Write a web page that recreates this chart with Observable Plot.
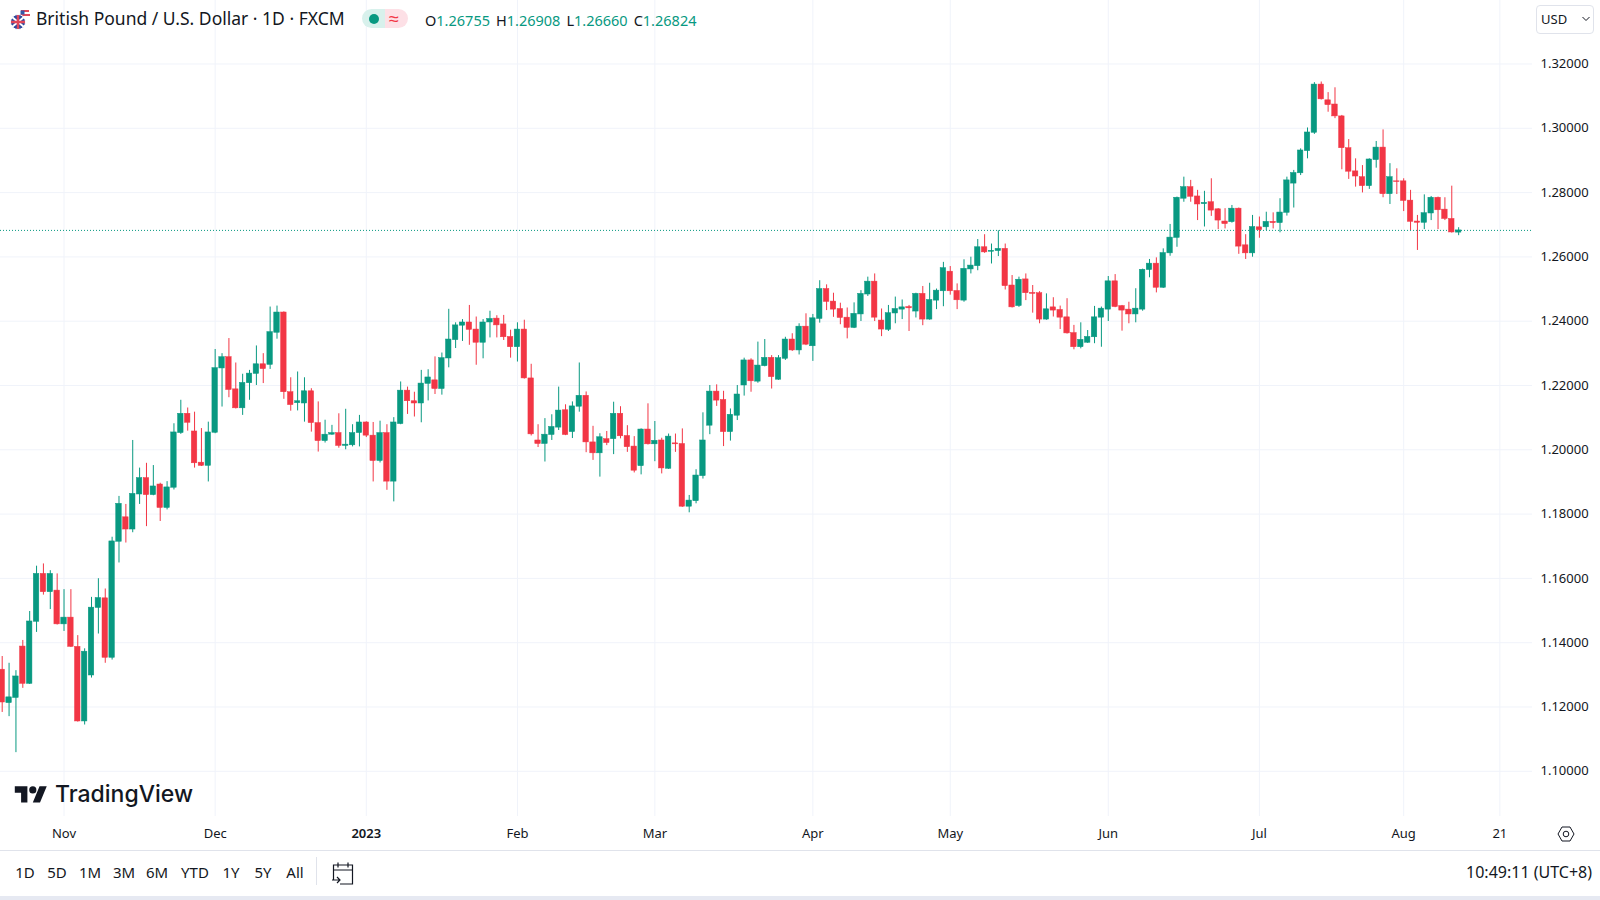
<!DOCTYPE html>
<html><head><meta charset="utf-8">
<script src="https://cdn.jsdelivr.net/npm/d3@7"></script>
<script src="https://cdn.jsdelivr.net/npm/@observablehq/plot@0.6"></script>
<style>
html,body{margin:0;padding:0;background:#fff}
#page{position:relative;width:1600px;height:900px;overflow:hidden;font-family:"Noto Sans",sans-serif;color:#131722}
#chart{position:absolute;left:0;top:0}
.a{position:absolute;white-space:nowrap}
</style></head><body>
<div id="page"><div id="chart"></div>
<svg class="a" style="left:9px;top:7px" width="24" height="24" viewBox="0 0 24 24">
<circle cx="16" cy="7.5" r="5.5" fill="#fff"/><path d="M12 3h8v2h-8zM11 7h10v2H11z" fill="#e0475a"/><path d="M11.5 3.5h4v4h-4z" fill="#3558a8"/>
<circle cx="9" cy="15" r="7.5" fill="#2f4a9e" stroke="#fff"/><path d="M3 10l12 10M15 10L3 20" stroke="#fff" stroke-width="2"/><path d="M9 8v14M2 15h14" stroke="#e0475a" stroke-width="2.4"/>
</svg>
<div class="a" id="title" style="left:36px;top:6px;font-size:17.5px;line-height:25px"></div>
<div class="a" style="left:362px;top:9px;width:23px;height:19px;background:#d8f1ec;border-radius:10px 0 0 10px"></div>
<div class="a" style="left:385px;top:9px;width:23px;height:19px;background:#fde0e6;border-radius:0 10px 10px 0"></div>
<div class="a" style="left:369px;top:13.5px;width:10px;height:10px;border-radius:5px;background:#089981"></div>
<div class="a" style="left:389px;top:6px;font-size:18px;line-height:24px;color:#f23645">≈</div>
<div class="a" id="ohlc" style="left:425px;top:10px;font-size:14.5px;line-height:20px"></div>
<div class="a" style="left:1536px;top:5px;width:56px;height:27px;border:1px solid #e0e3eb;border-radius:4px;font-size:13px;line-height:26px;text-indent:4px">USD</div>
<svg class="a" style="left:1581px;top:15px" width="10" height="8"><path d="M1.5 2l3.5 3.5L8.5 2" fill="none" stroke="#131722"/></svg>
<svg class="a" style="left:13px;top:785px" width="36" height="18" viewBox="0 5.5 36 20"><path d="M14 25H7V14H0V7h14v18zM28 25h-8l7.5-18h8L28 25z" fill="#131722"/><circle cx="20" cy="11" r="4" fill="#131722"/></svg>
<div class="a" style="left:55px;top:778px;font-family:Inter,sans-serif;font-weight:500;font-size:23px;line-height:32px;color:#131722">TradingView</div>
<svg class="a" style="left:1556px;top:825px" width="20" height="18" viewBox="0 0 20 18"><path d="M6 2h8l4 7-4 7H6L2 9z" fill="none" stroke="#131722"/><circle cx="10" cy="9" r="2.8" fill="none" stroke="#131722"/></svg>
<div class="a" style="left:0;top:850px;width:1600px;height:1px;background:#e0e3eb"></div>
<div id="ranges"></div>
<div class="a" style="left:316px;top:857px;width:1px;height:28px;background:#e0e3eb"></div>
<svg class="a" style="left:331px;top:860px" width="24" height="26" viewBox="0 0 24 26" fill="none" stroke="#131722" stroke-width="1.2"><path d="M2.5 20V5h19v19H9M2.5 10h19M7 2.5v5M17 2.5v5M1 20h8M6 17l3 3-3 3"/></svg>
<div class="a" style="right:8px;top:861px;font-size:16px;line-height:22px">10:49:11 (UTC+8)</div>
<div class="a" style="left:0;top:896px;width:1600px;height:4px;background:#e6e9f2"></div>
</div>
<script>
const titleText = "British Pound / U.S. Dollar · 1D · FXCM";
const rangeLabels = ["1D","5D","1M","3M","6M","YTD","1Y","5Y","All"];
const rangeCenters = [25,57,90,124,157,195,231,263,295];
const ohlcLabels = ["O","H","L","C"];
const ohlcValues = ["1.26755","1.26908","1.26660","1.26824"];

const opens = [
1.1316,1.1212,1.1228,1.1388,1.1272,1.1465,1.1614,1.1557,1.1562,1.1457,
1.1478,1.1387,1.1155,1.1298,1.1508,1.1538,1.1353,1.1714,1.1790,1.1752,
1.1861,1.1912,1.1859,1.1892,1.1819,1.1882,1.2052,1.2112,1.2057,1.1960,
1.1950,1.2053,1.2253,1.2288,1.2188,1.2129,1.2207,1.2236,1.2266,1.2264,
1.2364,1.2427,1.2179,1.2145,1.2144,1.2182,1.2083,1.2027,1.2047,1.2052,
1.2012,1.2014,1.2052,1.2085,1.2044,1.1965,1.2052,1.1901,1.2080,1.2184,
1.2151,1.2144,1.2205,1.2216,1.2189,1.2284,1.2341,1.2386,1.2396,1.2374,
1.2333,1.2396,1.2408,1.2390,1.2351,1.2319,1.2374,1.2222,1.2029,1.2018,
1.2046,1.2069,1.2123,1.2055,1.2134,1.2168,1.2023,1.1989,1.2033,1.2033,
1.2112,1.2043,1.2010,1.1949,1.2063,1.2017,1.2029,1.1941,1.2020,1.2018,
1.1823,1.1840,1.1918,1.2075,1.2181,1.2155,1.2055,1.2106,1.2200,1.2278,
1.2212,1.2260,1.2286,1.2218,1.2283,1.2343,1.2309,1.2383,1.2322,1.2407,
1.2500,1.2461,1.2438,1.2411,1.2379,1.2421,1.2483,1.2523,1.2402,1.2373,
1.2424,1.2436,1.2444,1.2430,1.2485,1.2405,1.2464,1.2493,1.2554,1.2494,
1.2464,1.2561,1.2571,1.2630,1.2616,1.2618,1.2625,1.2511,1.2447,1.2530,
1.2488,1.2487,1.2405,1.2443,1.2435,1.2412,1.2363,1.2319,1.2333,1.2350,
1.2411,1.2436,1.2524,1.2447,1.2436,1.2421,1.2436,1.2559,1.2579,1.2504,
1.2611,1.2659,1.2781,1.2817,1.2788,1.2764,1.2770,1.2748,1.2710,1.2708,
1.2750,1.2636,1.2611,1.2692,1.2692,1.2709,1.2705,1.2737,1.2828,1.2860,
1.2929,1.2986,1.3136,1.3087,1.3074,1.3037,1.2938,1.2866,1.2848,1.2820,
1.2901,1.2940,1.2795,1.2835,1.2835,1.2775,1.2710,1.2706,1.2735,1.2784,
1.2747,1.2718,1.26755];
const highs = [
1.1357,1.1336,1.1313,1.1407,1.1497,1.1638,1.1645,1.1624,1.1614,1.1565,
1.1565,1.1422,1.1381,1.1541,1.1599,1.1567,1.1728,1.1855,1.1830,1.2029,
1.1943,1.1958,1.1951,1.1896,1.1901,1.2081,1.2154,1.2130,1.2117,1.2066,
1.2086,1.2312,1.2299,1.2346,1.2270,1.2235,1.2247,1.2323,1.2299,1.2444,
1.2447,1.2429,1.2224,1.2242,1.2224,1.2190,1.2149,1.2092,1.2076,1.2112,
1.2126,1.2078,1.2107,1.2087,1.2085,1.2089,1.2078,1.2100,1.2211,1.2195,
1.2179,1.2247,1.2249,1.2289,1.2301,1.2437,1.2395,1.2405,1.2449,1.2413,
1.2405,1.2431,1.2417,1.2418,1.2372,1.2395,1.2403,1.2266,1.2078,1.2097,
1.2109,1.2195,1.2140,1.2149,1.2270,1.2180,1.2073,1.2050,1.2057,1.2148,
1.2134,1.2075,1.2041,1.2065,1.2143,1.2088,1.2036,1.2049,1.2049,1.2065,
1.1858,1.1938,1.2115,1.2200,1.2202,1.2182,1.2127,1.2200,1.2285,1.2283,
1.2335,1.2343,1.2293,1.2293,1.2350,1.2361,1.2392,1.2423,1.2421,1.2526,
1.2513,1.2487,1.2456,1.2441,1.2457,1.2495,1.2537,1.2547,1.2438,1.2449,
1.2475,1.2466,1.2449,1.2487,1.2508,1.2518,1.2500,1.2583,1.2570,1.2516,
1.2591,1.2599,1.2654,1.2669,1.2640,1.2681,1.2640,1.2542,1.2537,1.2547,
1.2511,1.2492,1.2485,1.2473,1.2447,1.2470,1.2387,1.2395,1.2371,1.2446,
1.2444,1.2539,1.2545,1.2449,1.2459,1.2501,1.2562,1.2592,1.2597,1.2625,
1.2701,1.2786,1.2848,1.2838,1.2807,1.2804,1.2843,1.2750,1.2750,1.2760,
1.2752,1.2669,1.2729,1.2724,1.2739,1.2737,1.2781,1.2848,1.2869,1.2936,
1.3001,1.3142,1.3144,1.3111,1.3126,1.3040,1.2965,1.2905,1.2884,1.2905,
1.2959,1.2995,1.2890,1.2874,1.2843,1.2807,1.2729,1.2793,1.2788,1.2786,
1.2784,1.2820,1.26908];
const lows = [
1.1183,1.1170,1.1058,1.1258,1.1270,1.1432,1.1548,1.1503,1.1455,1.1435,
1.1385,1.1153,1.1144,1.1290,1.1427,1.1336,1.1346,1.1648,1.1710,1.1742,
1.1830,1.1761,1.1857,1.1777,1.1813,1.1875,1.2048,1.2058,1.1943,1.1948,
1.1900,1.2050,1.2133,1.2162,1.2127,1.2107,1.2154,1.2200,1.2206,1.2250,
1.2344,1.2157,1.2120,1.2121,1.2086,1.2055,1.1993,1.2021,1.2045,1.2005,
1.2000,1.2009,1.2009,1.2038,1.1900,1.1959,1.1874,1.1838,1.2078,1.2110,
1.2102,1.2084,1.2152,1.2172,1.2170,1.2255,1.2315,1.2337,1.2325,1.2263,
1.2283,1.2348,1.2348,1.2340,1.2285,1.2273,1.2220,1.2043,1.2007,1.1962,
1.2029,1.2060,1.2044,1.2035,1.2117,1.1991,1.1967,1.1915,1.2013,1.1985,
1.2034,1.1992,1.1928,1.1922,1.2015,1.1963,1.1925,1.1939,1.1992,1.1821,
1.1804,1.1832,1.1909,1.2047,1.2135,1.2010,1.2027,1.2091,1.2167,1.2179,
1.2207,1.2258,1.2189,1.2216,1.2278,1.2306,1.2295,1.2324,1.2275,1.2394,
1.2433,1.2412,1.2389,1.2345,1.2377,1.2399,1.2477,1.2399,1.2352,1.2368,
1.2392,1.2405,1.2368,1.2410,1.2386,1.2403,1.2436,1.2445,1.2481,1.2436,
1.2459,1.2547,1.2557,1.2611,1.2578,1.2601,1.2497,1.2441,1.2443,1.2464,
1.2425,1.2392,1.2403,1.2413,1.2374,1.2360,1.2311,1.2314,1.2331,1.2330,
1.2319,1.2399,1.2442,1.2369,1.2392,1.2395,1.2431,1.2535,1.2488,1.2502,
1.2602,1.2630,1.2770,1.2770,1.2713,1.2693,1.2726,1.2685,1.2687,1.2705,
1.2608,1.2592,1.2599,1.2658,1.2682,1.2687,1.2675,1.2727,1.2752,1.2853,
1.2905,1.2981,1.3088,1.3050,1.3030,1.2871,1.2841,1.2817,1.2799,1.2810,
1.2876,1.2784,1.2763,1.2794,1.2741,1.2682,1.2620,1.2685,1.2713,1.2685,
1.2713,1.2674,1.26660];
const closes = [
1.1214,1.1230,1.1295,1.1272,1.1466,1.1614,1.1557,1.1614,1.1457,1.1478,
1.1387,1.1155,1.1372,1.1509,1.1539,1.1353,1.1715,1.1832,1.1752,1.1863,
1.1912,1.1859,1.1886,1.1819,1.1883,1.2054,1.2112,1.2084,1.1958,1.1950,
1.2054,1.2254,1.2288,1.2186,1.2129,1.2208,1.2237,1.2266,1.2251,1.2366,
1.2427,1.2179,1.2139,1.2151,1.2182,1.2083,1.2027,1.2047,1.2052,1.2012,
1.2016,1.2052,1.2085,1.2044,1.1965,1.2052,1.1901,1.2085,1.2184,1.2151,
1.2144,1.2206,1.2225,1.2189,1.2285,1.2343,1.2387,1.2396,1.2373,1.2333,
1.2396,1.2407,1.2387,1.2350,1.2319,1.2374,1.2222,1.2048,1.2018,1.2047,
1.2071,1.2122,1.2046,1.2135,1.2168,1.2023,1.1989,1.2039,1.2021,1.2112,
1.2042,1.2008,1.1935,1.2063,1.2017,1.2028,1.1942,1.2041,1.2017,1.1823,
1.1842,1.1920,1.2029,1.2181,1.2153,1.2055,1.2109,1.2172,1.2278,1.2213,
1.2262,1.2286,1.2226,1.2285,1.2343,1.2309,1.2383,1.2327,1.2409,1.2500,
1.2460,1.2436,1.2410,1.2379,1.2423,1.2485,1.2523,1.2411,1.2374,1.2425,
1.2438,1.2443,1.2440,1.2485,1.2405,1.2466,1.2495,1.2565,1.2493,1.2465,
1.2563,1.2573,1.2630,1.2614,1.2619,1.2625,1.2509,1.2443,1.2529,1.2487,
1.2485,1.2405,1.2437,1.2433,1.2411,1.2362,1.2319,1.2342,1.2351,1.2412,
1.2439,1.2524,1.2444,1.2433,1.2421,1.2439,1.2560,1.2579,1.2504,1.2612,
1.2660,1.2784,1.2817,1.2787,1.2763,1.2768,1.2744,1.2713,1.2702,1.2750,
1.2632,1.2611,1.2693,1.2683,1.2709,1.2705,1.2738,1.2838,1.2861,1.2931,
1.2987,1.3136,1.3090,1.3072,1.3037,1.2938,1.2865,1.2850,1.2820,1.2903,
1.2940,1.2795,1.2848,1.2833,1.2774,1.2709,1.2706,1.2736,1.2784,1.2745,
1.2718,1.2676,1.26824];

const monthBars = [9,31,75,95,118,138,161,183,204,218];
const monthLabels = ["Nov","Dec","Feb","Mar","Apr","May","Jun","Jul","Aug","21"];
const yearBars = [53];
const yearLabels = ["2023"];
const priceTicks = [1.10,1.12,1.14,1.16,1.18,1.20,1.22,1.24,1.26,1.28,1.30,1.32];

const UP = "#089981", DOWN = "#f23645", GRID = "#f0f3fa", INK = "#131722";
const candles = opens.map((o,i)=>({i,o,h:highs[i],l:lows[i],c:closes[i]}));
const col = d => d.c >= d.o ? UP : DOWN;
const lastClose = closes[closes.length-1];
const font = '"Noto Sans",sans-serif';

const chart = Plot.plot({
  width:1600,height:851,marginLeft:0,marginRight:68,marginTop:0,marginBottom:35,
  style:{background:"transparent",fontFamily:font,color:INK,overflow:"visible"},
  x:{domain:[-0.2475,222.75],axis:null},
  y:{domain:[1.08594,1.33975],axis:null},
  marks:[
    Plot.gridY(priceTicks,{stroke:GRID,strokeOpacity:1}),
    Plot.gridX([...monthBars,...yearBars],{stroke:GRID,strokeOpacity:1}),
    Plot.ruleY([lastClose],{stroke:UP,strokeDasharray:"1,2",strokeWidth:1}),
    Plot.ruleX(candles,{x:"i",y1:"l",y2:"h",stroke:col,strokeWidth:1}),
    Plot.rect(candles,{x1:d=>d.i-0.4,x2:d=>d.i+0.4,y1:"o",y2:"c",fill:col,stroke:col,strokeWidth:0.5}),
    Plot.axisY(priceTicks,{anchor:"right",tickSize:0,tickPadding:8,tickFormat:d3.format(".5f"),label:null,fontSize:13}),
    Plot.axisX(monthBars,{anchor:"bottom",tickSize:0,tickPadding:12.5,tickFormat:(d,i)=>monthLabels[monthBars.indexOf(d)],label:null,fontSize:13}),
    Plot.axisX(yearBars,{anchor:"bottom",tickSize:0,tickPadding:12.5,tickFormat:()=>yearLabels[0],label:null,fontSize:13,fontWeight:600})
  ]
});
document.getElementById("chart").appendChild(chart);

document.getElementById("title").textContent = titleText;
document.getElementById("ohlc").innerHTML = ohlcLabels.map((l,i)=>`<span style="margin-left:${i?6:0}px">${l}</span><span style="color:${UP}">${ohlcValues[i]}</span>`).join("");
document.getElementById("ranges").innerHTML = rangeLabels.map((l,i)=>`<div class="a" style="left:${rangeCenters[i]}px;top:861px;transform:translateX(-50%);font-size:15px;line-height:22px">${l}</div>`).join("");
</script>
</body></html>
